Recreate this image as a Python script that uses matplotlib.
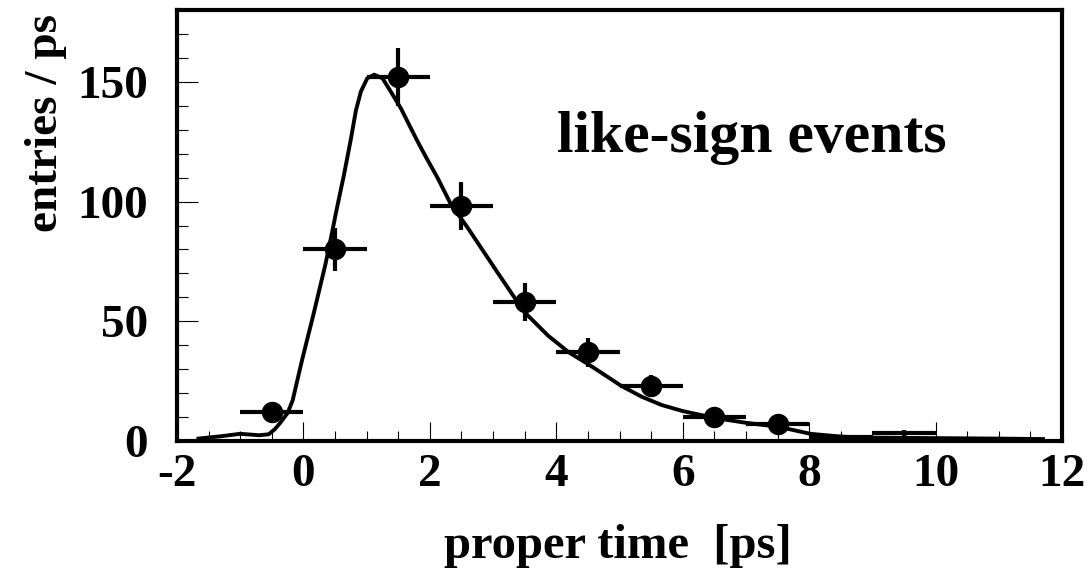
import numpy as np
import matplotlib
matplotlib.use("Agg")
import matplotlib.pyplot as plt
from matplotlib.ticker import MultipleLocator


# ------------------------------------------------------------
# DATA
# ------------------------------------------------------------
t_bins = [-0.5, 0.5, 1.5, 2.5, 3.5, 4.5, 5.5, 6.5, 7.5, 8.5, 9.5]
counts = [12, 80, 152, 98, 58, 37, 23, 10, 7, 1.7, 3.2]
count_err = [3.5, 9, 12, 10, 8, 6, 4.5, 3, 3, 1, 1.2]
bin_half = [0.5] * len(t_bins)

# fitted curve
curve_t = [-1.66, -1.3, -1.0, -0.7, -0.55, -0.45, -0.37, -0.25, -0.17, -0.02,
           0.16, 0.35, 0.46, 0.52, 0.64, 0.75, 0.83, 0.91, 1.01, 1.12,
           1.25, 1.38, 1.54, 1.80, 1.94, 2.12, 2.33, 2.60, 3.08, 3.49,
           3.87, 4.2, 4.51, 5.03, 5.35, 5.67, 6.0, 6.51, 7.0, 7.52,
           8.02, 8.52, 9.0, 10.0, 11.0, 11.7]
curve_y = [1.0, 2.0, 3.0, 2.4, 2.8, 5.0, 7.5, 11.7, 17, 34,
           53, 74, 88, 96, 111, 126, 138, 146, 151.5, 153,
           151.5, 146, 139, 125.4, 118.5, 110, 99, 89, 70, 54,
           44, 37, 32, 23, 18.5, 15, 12.5, 9.6, 7.6, 5.9,
           3.0, 1.8, 1.4, 1.2, 1.0, 0.8]

label_text = "like-sign events"

# ------------------------------------------------------------
# STYLE
# ------------------------------------------------------------
plt.rcParams["font.family"] = ["Liberation Serif", "DejaVu Serif"]
plt.rcParams["font.weight"] = "bold"
plt.rcParams["axes.unicode_minus"] = False

W, H = 1090, 572
fig = plt.figure(figsize=(W / 100, H / 100), dpi=100)
ax = fig.add_axes([177 / W, 1 - 441 / H, (1062 - 177) / W, (441 - 10) / H])

ax.plot(curve_t, curve_y, color="black", lw=2.8, zorder=2)

# big markers where the bin has entries, tiny ones for near-empty bins
big = [i for i, c in enumerate(counts) if c >= 5]
small = [i for i, c in enumerate(counts) if c < 5]
ax.errorbar([t_bins[i] for i in big], [counts[i] for i in big],
            xerr=[bin_half[i] for i in big], yerr=[count_err[i] for i in big],
            fmt="o", color="black", ms=14.4, elinewidth=3, capsize=0, zorder=3)
ax.errorbar([t_bins[i] for i in small], [counts[i] for i in small],
            xerr=[bin_half[i] for i in small], yerr=[count_err[i] for i in small],
            fmt="o", color="black", ms=3, elinewidth=3, capsize=0, zorder=3)

ax.set_xlim(-2, 12)
ax.set_ylim(0, 180)

ax.xaxis.set_major_locator(MultipleLocator(2))
ax.xaxis.set_minor_locator(MultipleLocator(0.5))
ax.yaxis.set_major_locator(MultipleLocator(50))
ax.yaxis.set_minor_locator(MultipleLocator(10))

ax.tick_params(axis="both", which="both", direction="in", top=False, right=False,
               width=0.8, labelsize=34, colors="black")
ax.tick_params(axis="y", which="major", length=15, pad=21)
ax.tick_params(axis="y", which="minor", length=8)
ax.tick_params(axis="x", which="major", length=13.5, pad=9)
ax.tick_params(axis="x", which="minor", length=7)
for lab in ax.get_xticklabels() + ax.get_yticklabels():
    lab.set_fontweight("bold")

for sp in ax.spines.values():
    sp.set_linewidth(3)

fig.text(557 / W, 1 - 152 / H, label_text, fontsize=43, fontweight="bold",
         ha="left", va="baseline")
fig.text(618 / W, 1 - 558 / H, "proper time  [ps]", fontsize=35, fontweight="bold",
         ha="center", va="baseline")
fig.text(67 / W, 1 - 14 / H, "entries / ps", fontsize=34, fontweight="bold",
         rotation=90, ha="right", va="top")

fig.savefig("out.png", dpi=100)
